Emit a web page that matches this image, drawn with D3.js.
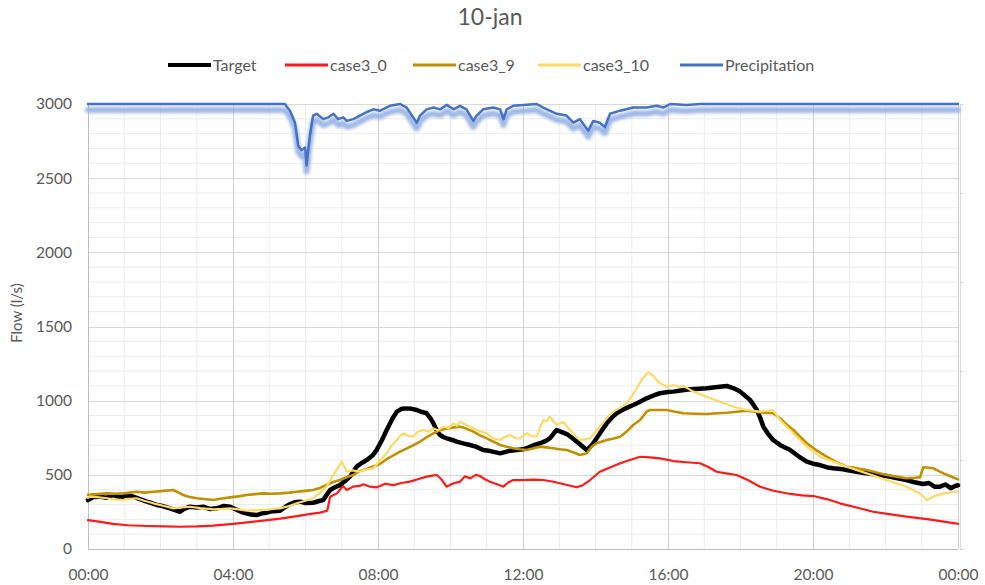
<!DOCTYPE html>
<html>
<head>
<meta charset="utf-8">
<script src="https://cdn.jsdelivr.net/npm/d3@7"></script>
<style>
  html, body { margin: 0; padding: 0; background: #fff; }
  svg { display: block; font-family: Lato, "Open Sans", sans-serif; }
</style>
</head>
<body>
<svg id="chart" width="985" height="585"></svg>
<script>
// ---- data: [hour of day, flow l/s] ----
const chartTitle = "10-jan";
const yAxisTitle = "Flow (l/s)";
const xTickHours = [0, 4, 8, 12, 16, 20, 24];
const xTickLabels = ["00:00", "04:00", "08:00", "12:00", "16:00", "20:00", "00:00"];
const yTicks = [0, 500, 1000, 1500, 2000, 2500, 3000];

const seriesNames = ["Target", "case3_0", "case3_9", "case3_10", "Precipitation"];

const targetFlow = [
  [0.0,330],[0.15,350],[0.33,353],[0.5,345],[0.7,364],[0.85,350],[0.97,353],[1.1,362],[1.25,353],
  [1.45,335],[1.62,319],[1.75,310],[1.9,297],[2.05,290],[2.26,274],[2.4,262],[2.54,251],[2.65,270],
  [2.81,285],[3.0,280],[3.18,285],[3.35,270],[3.55,274],[3.75,290],[3.92,285],[4.1,265],[4.28,245],
  [4.45,235],[4.65,229],[4.8,240],[4.93,245],[5.1,255],[5.3,258],[5.45,285],[5.57,303],[5.7,315],
  [5.85,319],[6.0,310],[6.21,312],[6.35,322],[6.49,330],[6.6,370],[6.68,398],[6.8,415],[6.95,431],
  [7.1,460],[7.23,488],[7.41,555],[7.55,580],[7.69,600],[7.85,630],[7.96,667],[8.1,730],[8.24,802],
  [8.4,880],[8.52,926],[8.65,945],[8.79,948],[8.93,945],[9.07,937],[9.2,925],[9.34,915],[9.45,880],
  [9.53,847],[9.62,800],[9.71,769],[9.8,755],[9.9,746],[10.05,735],[10.17,724],[10.35,712],[10.54,701],
  [10.7,690],[10.9,667],[11.1,660],[11.37,645],[11.6,660],[11.83,667],[12.0,672],[12.1,679],[12.3,700],
  [12.47,713],[12.6,725],[12.74,746],[12.85,780],[12.93,802],[13.05,790],[13.21,775],[13.35,750],
  [13.48,724],[13.6,700],[13.76,667],[13.9,700],[14.03,746],[14.15,790],[14.31,847],[14.45,885],
  [14.58,915],[14.8,945],[15.04,971],[15.23,993],[15.41,1016],[15.6,1035],[15.78,1050],[16.0,1058],
  [16.15,1061],[16.4,1070],[16.61,1077],[16.85,1080],[17.07,1083],[17.3,1090],[17.62,1099],[17.8,1085],
  [17.99,1061],[18.12,1035],[18.26,1005],[18.35,975],[18.45,937],[18.55,880],[18.63,825],[18.75,780],
  [18.9,735],[19.1,700],[19.37,667],[19.6,625],[19.83,589],[20.0,575],[20.19,566],[20.4,550],[20.56,544],
  [20.75,540],[20.93,533],[21.2,520],[21.48,510],[21.75,500],[22.03,492],[22.3,478],[22.58,465],
  [22.8,450],[23.04,438],[23.2,445],[23.35,420],[23.5,420],[23.65,435],[23.8,410],[23.92,425],[24,430]
];

const case3_0Flow = [
  [0,195],[0.3,185],[0.69,169],[1.1,160],[1.63,155],[2.1,152],[2.54,150],[3.0,152],[3.45,157],[4.0,169],
  [4.4,180],[4.83,191],[5.3,205],[5.77,222],[6.1,235],[6.4,245],[6.6,258],[6.68,353],[6.87,375],[7.03,425],
  [7.14,398],[7.31,420],[7.5,425],[7.59,436],[7.78,420],[7.96,416],[8.06,425],[8.2,440],[8.42,431],
  [8.65,445],[8.88,454],[9.1,470],[9.34,488],[9.5,495],[9.62,499],[9.75,470],[9.89,420],[10.05,440],
  [10.26,454],[10.4,490],[10.54,476],[10.7,500],[10.81,492],[10.95,470],[11.09,454],[11.3,435],[11.46,420],
  [11.6,450],[11.73,465],[12.0,465],[12.3,468],[12.56,465],[12.8,455],[13.02,443],[13.25,430],[13.48,416],
  [13.65,430],[13.85,465],[14.12,521],[14.4,550],[14.68,578],[14.95,600],[15.23,622],[15.5,618],[15.78,611],
  [16.15,593],[16.5,585],[16.88,578],[17.1,555],[17.34,521],[17.6,510],[17.89,499],[18.2,465],[18.54,420],
  [18.91,393],[19.37,371],[19.7,362],[20.01,357],[20.4,335],[20.74,308],[21.2,280],[21.66,251],[22.1,235],
  [22.58,218],[23.2,200],[23.92,173],[24,170]
];

const case3_9Flow = [
  [0,365],[0.25,370],[0.52,375],[0.75,372],[0.97,375],[1.15,380],[1.34,386],[1.55,380],[1.8,386],[2.1,392],
  [2.35,398],[2.5,380],[2.63,364],[2.8,350],[3.0,342],[3.25,335],[3.46,330],[3.7,340],[3.92,348],[4.15,355],
  [4.38,364],[4.6,370],[4.84,375],[5.05,372],[5.3,375],[5.55,380],[5.76,386],[6.0,392],[6.21,398],[6.4,412],
  [6.58,431],[6.75,450],[6.95,465],[7.15,485],[7.32,499],[7.5,525],[7.69,540],[7.85,555],[8.06,575],
  [8.3,615],[8.61,656],[8.9,690],[9.16,724],[9.35,755],[9.53,780],[9.7,800],[9.9,813],[10.1,820],[10.26,825],
  [10.45,810],[10.63,791],[10.8,768],[11.0,746],[11.2,722],[11.37,701],[11.55,690],[11.73,679],[11.9,672],
  [12.1,667],[12.3,680],[12.47,690],[12.65,685],[12.84,679],[13.0,672],[13.21,667],[13.4,650],[13.57,634],
  [13.76,645],[13.9,690],[14.03,713],[14.31,735],[14.5,745],[14.68,757],[14.85,790],[15.04,836],[15.23,870],
  [15.41,926],[15.5,937],[15.78,937],[15.96,937],[16.2,925],[16.42,915],[16.75,912],[17.07,910],[17.35,915],
  [17.62,919],[17.9,925],[18.17,932],[18.4,925],[18.63,919],[18.9,915],[19.09,881],[19.25,845],[19.46,802],
  [19.65,755],[19.83,713],[20.1,665],[20.38,622],[20.65,585],[20.93,555],[21.2,545],[21.48,533],[21.75,515],
  [22.03,499],[22.3,488],[22.58,477],[22.8,480],[22.95,483],[23.04,551],[23.32,544],[23.6,510],[23.92,477],
  [24,470]
];

const case3_10Flow = [
  [0,345],[0.05,353],[0.25,350],[0.52,342],[0.75,335],[0.97,330],[1.15,338],[1.34,342],[1.55,325],[1.8,308],
  [2.1,290],[2.35,274],[2.6,280],[2.81,285],[3.1,275],[3.46,267],[3.7,270],[3.92,274],[4.2,265],[4.38,258],
  [4.6,262],[4.93,263],[5.1,270],[5.3,274],[5.55,290],[5.76,308],[6.0,325],[6.21,342],[6.4,380],[6.58,420],
  [6.72,480],[6.86,533],[7.0,589],[7.14,521],[7.3,530],[7.5,521],[7.65,535],[7.87,544],[8.06,600],[8.24,645],
  [8.38,700],[8.52,735],[8.6,760],[8.7,780],[8.8,765],[8.97,757],[9.1,790],[9.25,802],[9.4,790],[9.53,813],
  [9.65,800],[9.8,825],[9.95,815],[10.08,847],[10.18,830],[10.26,858],[10.45,836],[10.6,815],[10.72,802],
  [10.85,790],[11.0,780],[11.1,760],[11.18,746],[11.37,735],[11.5,755],[11.64,769],[11.8,745],[11.92,746],
  [12.1,780],[12.25,760],[12.38,757],[12.47,820],[12.56,870],[12.65,860],[12.74,892],[12.93,836],[13.11,858],
  [13.2,830],[13.3,802],[13.45,760],[13.57,735],[13.7,740],[13.85,746],[14.0,790],[14.12,825],[14.3,880],
  [14.49,926],[14.7,955],[14.86,982],[15.0,1030],[15.13,1080],[15.3,1150],[15.45,1190],[15.59,1170],
  [15.7,1135],[15.78,1117],[15.96,1094],[16.15,1106],[16.3,1092],[16.42,1100],[16.7,1061],[17.07,1027],
  [17.43,993],[17.8,959],[18.17,937],[18.54,926],[18.9,937],[19.09,870],[19.37,802],[19.83,690],[20.19,622],
  [20.56,589],[20.93,555],[21.48,510],[22.03,465],[22.58,420],[22.95,375],[23.14,330],[23.32,353],
  [23.6,375],[23.92,386],[24,388]
];

// precipitation depth on the unlabelled, inverted right-hand axis (0 at top)
const precipDepth = [
  [0,0],[5.43,0],[5.57,0.075],[5.71,0.21],[5.8,0.47],[5.89,0.52],[5.99,0.49],[6.03,0.69],[6.12,0.36],
  [6.21,0.13],[6.31,0.11],[6.49,0.17],[6.63,0.15],[6.77,0.11],[6.9,0.17],[7.04,0.15],[7.14,0.19],[7.32,0.17],
  [7.5,0.13],[7.69,0.09],[7.87,0.06],[8.06,0.075],[8.33,0.02],[8.61,0.0],[8.79,0.04],[8.97,0.15],[9.07,0.21],
  [9.16,0.13],[9.34,0.06],[9.53,0.04],[9.71,0.06],[9.9,0.01],[10.08,0.06],[10.26,0.02],[10.44,0.06],
  [10.63,0.19],[10.72,0.13],[10.9,0.06],[11.18,0.04],[11.37,0.06],[11.46,0.17],[11.55,0.06],[11.73,0.02],
  [12.0,0.01],[12.38,0.0],[12.56,0.04],[12.93,0.11],[13.2,0.13],[13.39,0.21],[13.57,0.17],[13.8,0.3],
  [13.94,0.19],[14.12,0.21],[14.26,0.26],[14.4,0.11],[14.68,0.075],[15.04,0.04],[15.41,0.04],[15.69,0.02],
  [15.87,0.04],[16.06,0.0],[16.51,0.01],[16.88,0.0],[24,0]
];
const precipAxisTicks = [0, 1, 2, 3, 4, 5];

const seriesColors = ["#000000", "#ff1a1a", "#bf9000", "#ffd966", "#4472c4"];
const seriesWidths = [4.5, 2.2, 2.6, 2.2, 2.5];

// ---- layout ----
const svg = d3.select("#chart");
const plot = { left: 88, right: 958, top: 104, bottom: 549 };
const labelFont = "Lato, sans-serif";
const grey = "#595959";

const x = d3.scaleLinear().domain([0, 24]).range([plot.left, plot.right]);
const y = d3.scaleLinear().domain([0, 3000]).range([plot.bottom, plot.top]);
const y2 = d3.scaleLinear().domain([0, 5]).range([plot.top, plot.bottom]);

const defs = svg.append("defs");
defs.append("filter").attr("id", "soft").attr("x", "-5%").attr("y", "-50%").attr("width", "110%").attr("height", "200%")
  .append("feGaussianBlur").attr("stdDeviation", 1.8);

// minor grid
const g = svg.append("g");
g.selectAll("line.hminor").data(d3.range(0, 3001, 100).filter(v => v % 500 !== 0))
  .join("line").attr("x1", plot.left).attr("x2", plot.right)
  .attr("y1", d => y(d)).attr("y2", d => y(d))
  .attr("stroke", "#ececec").attr("stroke-width", 1);
g.selectAll("line.vminor").data(d3.range(1, 24).filter(h => h % 4 !== 0))
  .join("line").attr("y1", plot.top).attr("y2", plot.bottom)
  .attr("x1", d => x(d)).attr("x2", d => x(d))
  .attr("stroke", "#ececec").attr("stroke-width", 1);

// major grid
g.selectAll("line.hmajor").data(yTicks.slice(1))
  .join("line").attr("x1", plot.left).attr("x2", plot.right)
  .attr("y1", d => Math.round(y(d)) + 0.5).attr("y2", d => Math.round(y(d)) + 0.5)
  .attr("stroke", "#d9d9d9").attr("stroke-width", 1);
g.selectAll("line.vmajor").data(xTickHours.slice(1))
  .join("line").attr("y1", plot.top).attr("y2", plot.bottom)
  .attr("x1", d => Math.round(x(d)) + 0.5).attr("x2", d => Math.round(x(d)) + 0.5)
  .attr("stroke", "#d0d0d0").attr("stroke-width", 1);

// axis lines
svg.append("line").attr("x1", plot.left + 0.5).attr("x2", plot.left + 0.5)
  .attr("y1", plot.top).attr("y2", plot.bottom).attr("stroke", "#bfbfbf");
svg.append("line").attr("x1", plot.left).attr("x2", plot.right)
  .attr("y1", plot.bottom + 0.5).attr("y2", plot.bottom + 0.5).attr("stroke", "#bfbfbf");

// secondary axis (unlabelled)
const rAxis = svg.append("g").attr("transform", `translate(${plot.right + 2},0)`)
  .call(d3.axisRight(y2).tickValues(precipAxisTicks).tickSize(3).tickFormat(""));
rAxis.select(".domain").attr("stroke", "#dcdcdc");
rAxis.selectAll(".tick line").attr("stroke", "#cfcfcf");

// y axis labels
const yAxis = svg.append("g").attr("transform", `translate(${plot.left},0)`)
  .call(d3.axisLeft(y).tickValues(yTicks).tickSize(0).tickPadding(16).tickFormat(d3.format("d")));
yAxis.select(".domain").remove();
yAxis.selectAll("text").attr("fill", grey).style("font-size", "15.5px").style("font-family", labelFont);

// x axis labels
const xAxis = svg.append("g").attr("transform", `translate(0,${plot.bottom})`)
  .call(d3.axisBottom(x).tickValues(xTickHours).tickSize(0).tickPadding(20)
    .tickFormat((d, i) => xTickLabels[i]));
xAxis.select(".domain").remove();
xAxis.selectAll("text").attr("fill", grey).style("font-size", "15.5px").style("font-family", labelFont);

// axis title
svg.append("text").attr("transform", "translate(22,313) rotate(-90)")
  .attr("text-anchor", "middle").attr("fill", grey)
  .style("font-size", "15px").text(yAxisTitle);

// chart title
svg.append("text").attr("x", 490).attr("y", 25).attr("text-anchor", "middle")
  .attr("fill", grey).style("font-size", "23px").text(chartTitle);

// ---- series ----
const flowLine = d3.line().x(d => x(d[0])).y(d => y(d[1])).curve(d3.curveLinear);
const precipLine = d3.line().x(d => x(d[0])).y(d => y2(d[1])).curve(d3.curveLinear);

const lines = svg.append("g").attr("stroke-linejoin", "round").attr("stroke-linecap", "round").attr("fill", "none");

// precipitation: soft shadow underneath, then the line
lines.append("path").datum(precipDepth).attr("d", precipLine)
  .attr("transform", "translate(0,6)")
  .attr("stroke", "#9ab4e4").attr("stroke-width", 6).attr("opacity", 0.95)
  .attr("filter", "url(#soft)");
lines.append("path").datum(precipDepth).attr("d", precipLine)
  .attr("stroke", seriesColors[4]).attr("stroke-width", seriesWidths[4]);

const flowSeries = [targetFlow, case3_0Flow, case3_9Flow, case3_10Flow];
const drawOrder = [1, 0, 2, 3];
drawOrder.forEach(i => {
  lines.append("path").datum(flowSeries[i]).attr("d", flowLine)
    .attr("stroke", seriesColors[i]).attr("stroke-width", seriesWidths[i]);
});

// ---- legend ----
const legendX = [168, 285, 413, 538, 680];
const legend = svg.append("g").attr("transform", "translate(0,65)");
seriesNames.forEach((name, i) => {
  const item = legend.append("g").attr("transform", `translate(${legendX[i]},0)`);
  item.append("line").attr("x1", 0).attr("x2", 43).attr("y1", 0).attr("y2", 0)
    .attr("stroke", seriesColors[i]).attr("stroke-width", i === 0 ? 4 : 3);
  item.append("text").attr("x", 45).attr("y", 5.5).attr("fill", grey)
    .style("font-size", "16px").text(name);
});
</script>
</body>
</html>
